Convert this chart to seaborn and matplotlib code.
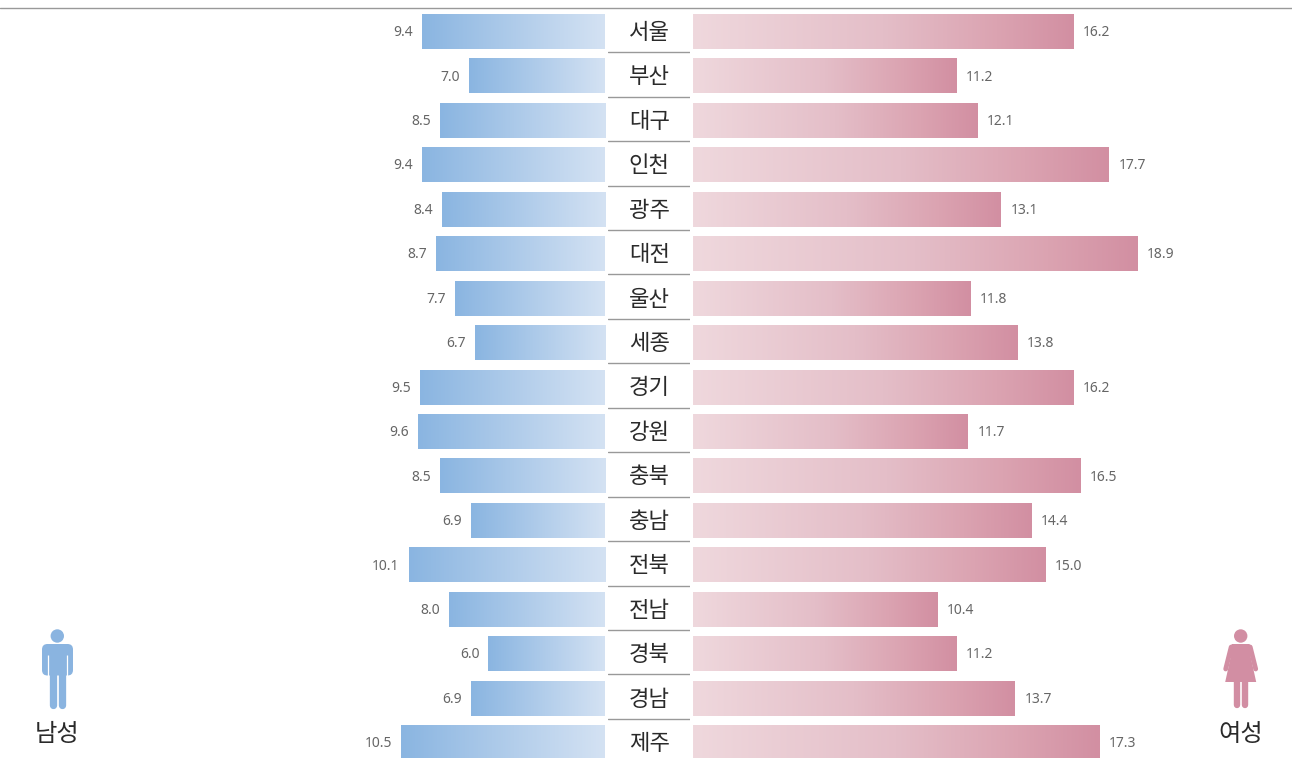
import numpy as np
import pandas as pd
import matplotlib
matplotlib.use("Agg")
import matplotlib.pyplot as plt
from matplotlib.colors import LinearSegmentedColormap
from matplotlib.lines import Line2D
from matplotlib.patches import Circle, Polygon, FancyBboxPatch
import seaborn as sns

regions = ["서울", "부산", "대구", "인천", "광주", "대전", "울산", "세종", "경기",
           "강원", "충북", "충남", "전북", "전남", "경북", "경남", "제주"]
male = [9.4, 7.0, 8.5, 9.4, 8.4, 8.7, 7.7, 6.7, 9.5, 9.6, 8.5, 6.9, 10.1, 8.0, 6.0, 6.9, 10.5]
female = [16.2, 11.2, 12.1, 17.7, 13.1, 18.9, 11.8, 13.8, 16.2, 11.7, 16.5, 14.4, 15.0, 10.4, 11.2, 13.7, 17.3]
legend_labels = ["남성", "여성"]

sns.set_theme(style="white")
plt.rcParams["font.family"] = ["Noto Sans CJK KR", "DejaVu Sans"]

W, H = 1292, 758
fig = plt.figure(figsize=(W / 100, H / 100), dpi=100, facecolor="white")
df = pd.DataFrame({"region": regions, "male": male, "female": female})

ROW = 44.45
TOP = 31.5
ylim = ((H - TOP) / ROW, -TOP / ROW)
BLUE = LinearSegmentedColormap.from_list("b", ["#8AB5E1", "#D4E2F3"])
PINK = LinearSegmentedColormap.from_list("p", [(0, "#EFD8DD"), (0.5, "#E4BEC8"), (0.8, "#DBA3B1"), (1, "#D28FA2")])
grad = np.linspace(0, 1, 256).reshape(1, -1)


def pane(x0, x1, col, xlim, cmap, flip):
    ax = fig.add_axes([x0 / W, 0, (x1 - x0) / W, 1])
    sns.barplot(data=df, x=col, y="region", orient="h", width=35 / ROW, ax=ax, color="white")
    for patch, v in zip(ax.patches, df[col]):
        y0, hgt = patch.get_y(), patch.get_height()
        ext = (v, 0, y0 + hgt, y0) if flip else (0, v, y0 + hgt, y0)
        ax.imshow(grad, cmap=cmap, extent=ext, aspect="auto", zorder=2,
                  interpolation="bilinear")
        yc = y0 + hgt / 2
        ax.annotate(f"{v:.1f}", (v, yc), xytext=(-6.5 if flip else 6.8, -0.8),
                    textcoords="offset points", ha="right" if flip else "left",
                    va="center", fontsize=10, color="#666666", family="Noto Sans")
    ax.set_xlim(*xlim)
    ax.set_ylim(*ylim)
    ax.axis("off")
    return ax


pane(300, 604.8, "male", (304.8 / 19.42, 0), BLUE, True)
pane(693, 1292, "female", (0, 599 / 23.5), PINK, False)

axc = fig.add_axes([608 / W, 0, 82 / W, 1])
axc.set_xlim(0, 1)
axc.set_ylim(*ylim)
axc.axis("off")
for i, name in enumerate(regions):
    axc.text(0.505, i + 0.02, name, ha="center", va="center", fontsize=16, color="#2a2a2a")
    if i < len(regions) - 1:
        axc.axhline(i + 0.465, color="#999999", lw=1)

# overlay in pixel coordinates for the rule and the pictograms
ov = fig.add_axes([0, 0, 1, 1], zorder=5)
ov.set_xlim(0, W)
ov.set_ylim(H, 0)
ov.axis("off")
ov.patch.set_alpha(0)
ov.add_line(Line2D([0, W], [8, 8], color="#999999", lw=1))

cm = "#8AB4E0"
ov.add_patch(Circle((57.3, 636), 6.7, fc=cm, ec="none"))
ov.add_patch(FancyBboxPatch((42, 644), 31, 31.5, boxstyle="round,pad=0,rounding_size=5.5", fc=cm, ec="none"))
for x in (48.2, 67):
    ov.add_line(Line2D([x, x], [655, 678], color="white", lw=0.9, solid_capstyle="butt"))
for x in (52.8, 61.6):
    ov.add_line(Line2D([x, x], [672, 704.5], color=cm, lw=7.3 * 0.72, solid_capstyle="round"))

cf = "#D28EA3"
cx = 1240.7
ov.add_patch(Circle((cx, 636), 6.7, fc=cf, ec="none"))
ov.add_patch(Polygon([(cx - 9, 644), (cx + 9, 644), (cx + 10, 657), (cx + 15.5, 682), (cx - 15.5, 682), (cx - 10, 657)],
                     fc=cf, ec="none"))
for sign in (-1, 1):
    ov.add_line(Line2D([cx + sign * 9.5, cx + sign * 15], [647, 669], color=cf, lw=4.8 * 0.72, solid_capstyle="round"))
    ov.add_line(Line2D([cx + sign * 3.9] * 2, [680, 705], color=cf, lw=6.4 * 0.72, solid_capstyle="round"))

ov.text(57, 734, legend_labels[0], ha="center", va="center", fontsize=17.5, color="#2a2a2a")
ov.text(1240.5, 734, legend_labels[1], ha="center", va="center", fontsize=17.5, color="#2a2a2a")

fig.savefig("out.png", dpi=100, facecolor="white")
